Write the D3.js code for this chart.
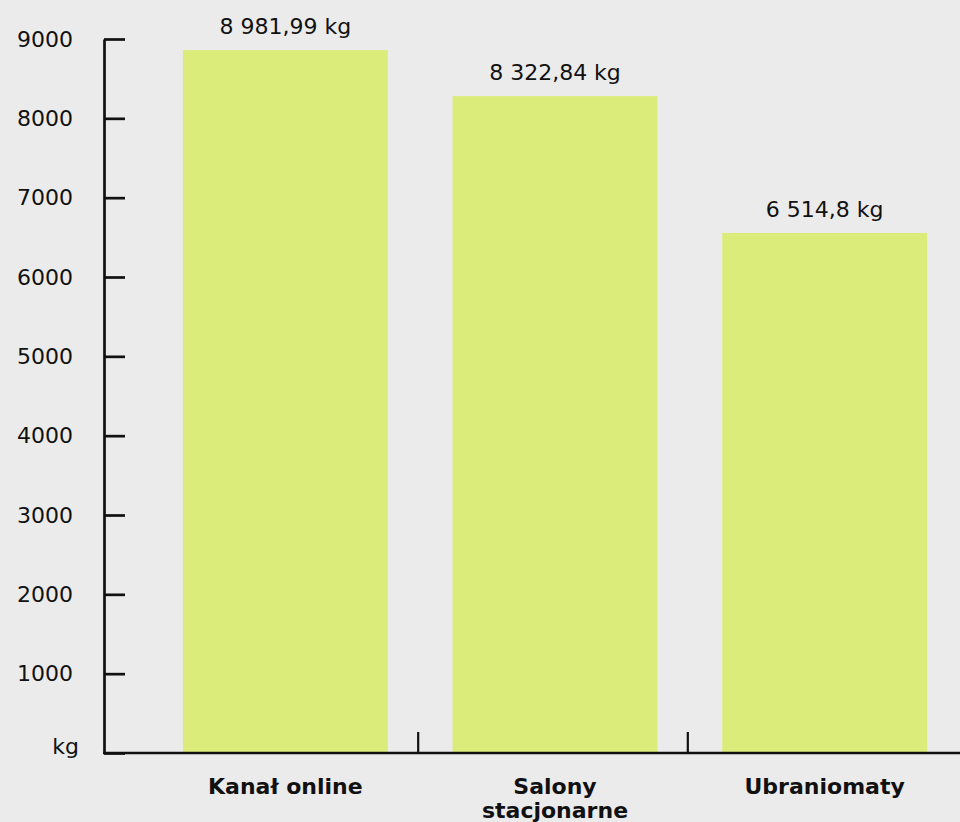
<!DOCTYPE html>
<meta charset="utf-8">
<style>

body {
    margin: 0;
    background: #ebebeb;
}

svg text {
    font-family: "DejaVu Sans", sans-serif;
    fill: #111;
}

.bar {
    fill: #dcec7b;
}

.axis path,
.axis line,
.base-line,
.sep {
    stroke: #111;
}

</style>
<body>
<script src="https://d3js.org/d3.v7.min.js"></script>
<script>

var width = 960,
    height = 822;

// categories and values (bar lengths, labels as printed)
var categories = ["Kanał online", "Salony stacjonarne", "Ubraniomaty"];
var values = [8860, 8280, 6555];
var valueLabels = ["8 981,99 kg", "8 322,84 kg", "6 514,8 kg"];
var yTicks = [0, 1000, 2000, 3000, 4000, 5000, 6000, 7000, 8000, 9000];
var zeroLabel = "kg";

var svg = d3.select("body").append("svg")
    .attr("width", width)
    .attr("height", height);

var y = d3.scaleLinear()
    .domain([0, 9000])
    .range([753, 39]);

var x = d3.scaleBand()
    .domain(categories)
    .range([102, 1008])
    .paddingInner(0.24)
    .paddingOuter(0.3);

// bars
svg.append("g")
    .selectAll("rect")
    .data(categories)
    .enter()
    .append("rect")
    .attr("class", "bar")
    .attr("x", function(d) { return x(d); })
    .attr("y", function(d, i) { return y(values[i]); })
    .attr("width", x.bandwidth())
    .attr("height", function(d, i) { return y(0) - y(values[i]); });

// value labels above bars
svg.append("g")
    .selectAll("text")
    .data(categories)
    .enter()
    .append("text")
    .attr("x", function(d) { return x(d) + x.bandwidth() / 2; })
    .attr("y", function(d, i) { return y(values[i]) - 16; })
    .attr("text-anchor", "middle")
    .style("font-size", "22px")
    .text(function(d, i) { return valueLabels[i]; });

// y axis, ticks pointing inward
var yAxis = svg.append("g")
    .attr("class", "axis")
    .attr("transform", "translate(104,0)")
    .call(d3.axisLeft(y)
        .tickValues(yTicks)
        .tickSizeInner(-21)
        .tickSizeOuter(0)
        .tickPadding(31)
        .tickFormat(function(d) { return d === 0 ? zeroLabel : d; }));

yAxis.selectAll("path, line").attr("stroke-width", 2.7);
yAxis.selectAll("text")
    .style("font-size", "22px")
    .attr("fill", "#111");
yAxis.selectAll(".tick")
    .filter(function(d) { return d === 0; })
    .select("text")
    .attr("dx", 6)
    .attr("dy", 0);

// x base line
svg.append("line")
    .attr("class", "base-line")
    .attr("x1", 103)
    .attr("x2", width)
    .attr("y1", y(0))
    .attr("y2", y(0))
    .attr("stroke-width", 2.5);

// separators between categories
var step = x.step();
svg.append("g")
    .selectAll("line")
    .data(categories.slice(1))
    .enter()
    .append("line")
    .attr("class", "sep")
    .attr("x1", function(d) { return x(d) - (step - x.bandwidth()) / 2 - 2; })
    .attr("x2", function(d) { return x(d) - (step - x.bandwidth()) / 2 - 2; })
    .attr("y1", y(0) - 21)
    .attr("y2", y(0))
    .attr("stroke-width", 2.2);

// category labels, wrapped to the band width
var cat = svg.append("g")
    .selectAll("text")
    .data(categories)
    .enter()
    .append("text")
    .attr("text-anchor", "middle")
    .style("font-size", "22px")
    .style("font-weight", "bold")
    .attr("x", function(d) { return x(d) + x.bandwidth() / 2; })
    .attr("y", 794);

cat.each(function(d) {
    var text = d3.select(this),
        words = d.split(" "),
        line = [],
        cx = text.attr("x"),
        tspan = text.append("tspan").attr("x", cx);
    words.forEach(function(w) {
        line.push(w);
        tspan.text(line.join(" "));
        if (tspan.node().getComputedTextLength() > x.bandwidth() && line.length > 1) {
            line.pop();
            tspan.text(line.join(" "));
            line = [w];
            tspan = text.append("tspan")
                .attr("x", cx)
                .attr("dy", 24)
                .text(w);
        }
    });
});

</script>
